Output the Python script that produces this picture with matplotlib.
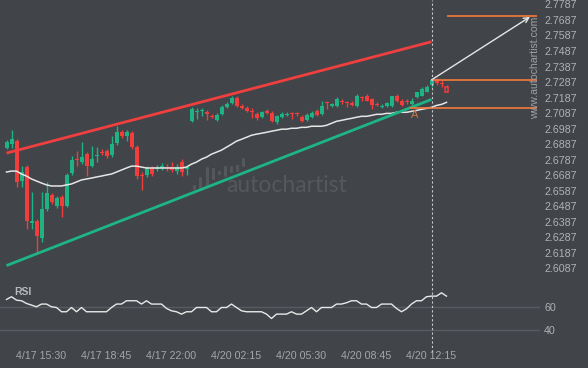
import matplotlib
matplotlib.use("Agg")
import matplotlib.pyplot as plt
from matplotlib.lines import Line2D
from matplotlib.patches import FancyBboxPatch
import numpy as np

plt.rcParams['font.family'] = ['Liberation Sans', 'DejaVu Sans']

# taille de l'image en pixels
W, H = 588, 368
BG = "#414449"
UP = "#1fb383"
DOWN = "#f23d3d"
TXT = "#aeb1b6"
ORANGE = "#f47a3a"

# bougies 15 min (open / high / low / close)
opens = [2.6861, 2.6886, 2.6906, 2.6649, 2.6739, 2.6380, 2.6393, 2.6284, 2.6470, 2.6560,
         2.6489, 2.6547, 2.6489, 2.6701, 2.6790, 2.6771, 2.6822, 2.6745, 2.6810, 2.6835,
         2.6842, 2.6816, 2.6893, 2.6963, 2.6938, 2.6957, 2.6867, 2.6688, 2.6688, 2.6733,
         2.6726, 2.6733, 2.6739, 2.6739, 2.6713, 2.6771, 2.6726, 2.7034, 2.7092, 2.7098,
         2.7092, 2.7066, 2.7040, 2.7079, 2.7124, 2.7149, 2.7181, 2.7130, 2.7117, 2.7098,
         2.7079, 2.7060, 2.7098, 2.7085, 2.7027, 2.7060, 2.7072, 2.7085, 2.7085, 2.7060,
         2.7040, 2.7060, 2.7098, 2.7079, 2.7156, 2.7130, 2.7130, 2.7162, 2.7156, 2.7149,
         2.7130, 2.7188, 2.7194, 2.7175, 2.7143, 2.7124, 2.7130, 2.7130, 2.7194, 2.7162,
         2.7162, 2.7143, 2.7188, 2.7200, 2.7226, 2.7265, 2.7297, 2.7284, 2.7258]
highs = [2.6912, 2.6976, 2.6918, 2.6745, 2.6752, 2.6579, 2.6406, 2.6579, 2.6643, 2.6572,
         2.6553, 2.6560, 2.6701, 2.6810, 2.6842, 2.6899, 2.6835, 2.6874, 2.6867, 2.6854,
         2.6854, 2.6938, 2.7002, 2.6976, 2.6976, 2.6970, 2.6880, 2.6707, 2.6745, 2.6745,
         2.6752, 2.6765, 2.6758, 2.6771, 2.6758, 2.6790, 2.6745, 2.7124, 2.7117, 2.7117,
         2.7104, 2.7079, 2.7085, 2.7136, 2.7156, 2.7200, 2.7194, 2.7143, 2.7130, 2.7117,
         2.7092, 2.7098, 2.7111, 2.7098, 2.7072, 2.7092, 2.7092, 2.7092, 2.7092, 2.7072,
         2.7085, 2.7098, 2.7111, 2.7168, 2.7168, 2.7149, 2.7188, 2.7175, 2.7168, 2.7162,
         2.7207, 2.7200, 2.7213, 2.7181, 2.7156, 2.7143, 2.7156, 2.7200, 2.7207, 2.7175,
         2.7175, 2.7181, 2.7226, 2.7252, 2.7271, 2.7309, 2.7316, 2.7303, 2.7265]
lows = [2.6854, 2.6861, 2.6611, 2.6611, 2.6342, 2.6342, 2.6181, 2.6258, 2.6457, 2.6502,
        2.6476, 2.6418, 2.6483, 2.6688, 2.6745, 2.6758, 2.6681, 2.6739, 2.6771, 2.6816,
        2.6797, 2.6803, 2.6880, 2.6925, 2.6906, 2.6854, 2.6662, 2.6592, 2.6675, 2.6681,
        2.6713, 2.6720, 2.6713, 2.6707, 2.6694, 2.6681, 2.6688, 2.7027, 2.7047, 2.7066,
        2.7040, 2.7053, 2.7034, 2.7072, 2.7117, 2.7143, 2.7124, 2.7111, 2.7092, 2.7053,
        2.7040, 2.7053, 2.7079, 2.7027, 2.7015, 2.7053, 2.7066, 2.7047, 2.7066, 2.7027,
        2.7034, 2.7053, 2.7066, 2.7072, 2.7111, 2.7124, 2.7124, 2.7143, 2.7124, 2.7130,
        2.7124, 2.7168, 2.7162, 2.7111, 2.7130, 2.7117, 2.7124, 2.7124, 2.7156, 2.7130,
        2.7143, 2.7136, 2.7181, 2.7194, 2.7220, 2.7258, 2.7265, 2.7258, 2.7220]
closes = [2.6899, 2.6918, 2.6643, 2.6707, 2.6393, 2.6393, 2.6297, 2.6470, 2.6572, 2.6515,
          2.6540, 2.6489, 2.6688, 2.6784, 2.6784, 2.6803, 2.6745, 2.6790, 2.6816, 2.6829,
          2.6810, 2.6886, 2.6963, 2.6938, 2.6963, 2.6867, 2.6681, 2.6681, 2.6733, 2.6694,
          2.6739, 2.6745, 2.6733, 2.6720, 2.6739, 2.6707, 2.6739, 2.7111, 2.7098, 2.7104,
          2.7079, 2.7060, 2.7072, 2.7124, 2.7143, 2.7181, 2.7130, 2.7117, 2.7098, 2.7092,
          2.7053, 2.7092, 2.7085, 2.7034, 2.7066, 2.7079, 2.7079, 2.7079, 2.7079, 2.7034,
          2.7072, 2.7085, 2.7072, 2.7130, 2.7149, 2.7143, 2.7175, 2.7156, 2.7149, 2.7136,
          2.7194, 2.7181, 2.7168, 2.7136, 2.7136, 2.7130, 2.7149, 2.7194, 2.7162, 2.7136,
          2.7156, 2.7168, 2.7220, 2.7239, 2.7258, 2.7303, 2.7284, 2.7277, 2.7226]

# moyenne mobile (ligne blanche)
ma = [2.6707, 2.6713, 2.6713, 2.6694, 2.6681, 2.6662, 2.6649, 2.6636, 2.6624, 2.6617,
      2.6617, 2.6617, 2.6624, 2.6630, 2.6643, 2.6656, 2.6662, 2.6668, 2.6675, 2.6681,
      2.6688, 2.6694, 2.6707, 2.6720, 2.6733, 2.6745, 2.6745, 2.6739, 2.6733, 2.6733,
      2.6733, 2.6733, 2.6733, 2.6733, 2.6733, 2.6733, 2.6739, 2.6758, 2.6771, 2.6790,
      2.6803, 2.6822, 2.6835, 2.6848, 2.6867, 2.6886, 2.6906, 2.6918, 2.6931, 2.6944,
      2.6951, 2.6957, 2.6963, 2.6970, 2.6976, 2.6983, 2.6983, 2.6989, 2.6989, 2.6995,
      2.6995, 2.7002, 2.7002, 2.7002, 2.7008, 2.7021, 2.7034, 2.7040, 2.7047, 2.7053,
      2.7060, 2.7066, 2.7066, 2.7072, 2.7079, 2.7079, 2.7085, 2.7085, 2.7092, 2.7092,
      2.7092, 2.7098, 2.7104, 2.7111, 2.7117, 2.7124, 2.7136, 2.7143, 2.7156]

rsi = [66.2, 68.5, 65.6, 65.1, 62.8, 61.4, 60.0, 62.3, 62.3, 60.0,
       59.4, 55.8, 55.8, 59.4, 55.8, 59.4, 55.8, 55.8, 55.8, 55.8,
       55.8, 59.4, 62.3, 62.3, 65.1, 65.1, 65.1, 62.3, 65.1, 62.3,
       62.3, 62.3, 58.6, 56.6, 55.8, 53.8, 55.8, 55.8, 59.4, 59.4,
       59.4, 55.8, 55.8, 59.4, 59.4, 62.3, 59.4, 56.6, 55.8, 55.8,
       55.8, 55.8, 53.8, 50.1, 53.8, 53.8, 53.8, 55.8, 53.8, 53.8,
       56.6, 59.4, 55.8, 59.4, 59.4, 59.4, 62.3, 62.3, 63.4, 65.1,
       65.1, 62.3, 62.3, 59.4, 59.4, 62.3, 62.3, 62.3, 58.6, 55.8,
       58.3, 62.3, 65.1, 65.1, 68.5, 69.0, 69.0, 71.8, 69.0]

price_ticks = [2.6087, 2.6187, 2.6287, 2.6387, 2.6487, 2.6587, 2.6687, 2.6787, 2.6887,
               2.6987, 2.7087, 2.7187, 2.7287, 2.7387, 2.7487, 2.7587, 2.7687, 2.7787]
rsi_ticks = [40, 60]
time_labels = ["4/17 15:30", "4/17 18:45", "4/17 22:00", "4/20 02:15",
               "4/20 05:30", "4/20 08:45", "4/20 12:15"]
time_label_bars = [7, 20, 33, 46, 59, 72, 85]

# canal et niveaux du motif
channel_bars = [0, 85]
upper_channel = [2.6829, 2.7547]
lower_channel = [2.6104, 2.7175]
level_starts = [88, 85, 80.7]
level_end = 106
level_prices = [2.7713, 2.7301, 2.7122]
arrow_start = (85, 2.7301)
arrow_end = (104.7, 2.7707)
point_a = (81.6, 2.7072)
now_bar = 85


def px_axes(fig, left, top, right, bottom):
    return fig.add_axes([left / W, 1 - bottom / H, (right - left) / W, (bottom - top) / H])


fig = plt.figure(figsize=(W / 100, H / 100), dpi=100, facecolor=BG)
ax = px_axes(fig, 0, 0, 540, 280)
ax_rsi = px_axes(fig, 0, 283, 540, 345)

for a in (ax, ax_rsi):
    a.set_facecolor(BG)
    for s in a.spines.values():
        s.set_visible(False)
    a.set_xlim(-1.3, 106.7)
    a.yaxis.tick_right()
    a.tick_params(axis='y', length=0, pad=3, labelsize=7.7, labelcolor=TXT)

ax.set_ylim(2.6011, 2.78158)
ax_rsi.set_ylim(27.7, 80.1)

# filigrane
ax.text(287 / 540, 1 - 185 / 280, "autochartist", transform=ax.transAxes, ha='center',
        va='center', fontsize=16.5, color="#55585d", family=['Lato', 'DejaVu Sans'], zorder=0)
logo = [(193, 185, 190), (199, 177, 190), (206, 167, 187), (212, 168, 180), (218, 171, 175),
        (224, 166, 177), (230, 166, 173), (236, 165, 172), (242, 158, 167)]
for lx, top, bot in logo:
    ax.add_patch(FancyBboxPatch((lx / 540, 1 - bot / 280), 3 / 540, (bot - top) / 280,
                                boxstyle="round,pad=0,rounding_size=0.003",
                                transform=ax.transAxes, color="#54575c", lw=0, zorder=0))

x = np.arange(len(opens))
o = np.array(opens)
c = np.array(closes)
colors = [UP if cc >= oo else DOWN for oo, cc in zip(o, c)]
bottoms = np.minimum(o, c)
heights = np.maximum(np.abs(c - o), 0.0005)

ax.vlines(x, lows, highs, colors=colors, lw=1, zorder=2)
ax.bar(x[:-1], heights[:-1], 0.8, bottom=bottoms[:-1], color=colors[:-1], lw=0, zorder=3)
# bougie en cours (creuse)
ax.bar(x[-1:], heights[-1:], 0.75, bottom=bottoms[-1:], facecolor=BG, edgecolor=DOWN,
       lw=1.1, zorder=3)

ax.plot(x, ma, color="#e6e6e6", lw=1.1, zorder=4)
ax.plot(channel_bars, upper_channel, color="#f03f3f", lw=2, solid_capstyle='butt', zorder=5)
ax.plot(channel_bars, lower_channel, color="#1db585", lw=2, solid_capstyle='butt', zorder=5)

for start, price in zip(level_starts, level_prices):
    ax.hlines(price, start, level_end, color=ORANGE, lw=1.2, zorder=5)

ax.annotate("", xy=arrow_end, xytext=arrow_start,
            arrowprops=dict(arrowstyle="->", color="#e6e6e6", lw=1, mutation_scale=9,
                            shrinkA=0, shrinkB=0), zorder=6)
ax.text(point_a[0], point_a[1], "A", color="#cc7a45", fontsize=8, ha='center', va='center',
        zorder=6)

ax.set_yticks(price_ticks, [f"{p:.4f}" for p in price_ticks])
ax.set_xticks([])

# watermark vertical
fig.text(535 / W, 1 - 68 / H, "www.autochartist.com", rotation=90, ha='center', va='center',
         fontsize=7.6, color="#9ea1a6")

# panneau RSI
for lvl in rsi_ticks:
    ax_rsi.axhline(lvl, color="#585b61", lw=1, zorder=1)
ax_rsi.plot(x, rsi, color="#e8e8e8", lw=1, zorder=3)
ax_rsi.set_yticks(rsi_ticks, [str(t) for t in rsi_ticks])
ax_rsi.set_xticks(time_label_bars, time_labels)
ax_rsi.tick_params(axis='x', length=0, pad=4, labelsize=7.7, labelcolor="#a3a6ab")
fig.text(14 / W, 1 - 292 / H, "RSI", ha='left', va='center', fontsize=7.5,
         fontweight='bold', color="#b6b9bd")

# ligne pointillée verticale (instant courant)
xd = fig.transFigure.inverted().transform(ax.transData.transform((now_bar, 2.7)))[0]
fig.add_artist(Line2D([xd, xd], [1 - 352 / H, 1], color="#c8cacd", lw=0.8,
                      dashes=(2, 2), transform=fig.transFigure))

fig.savefig("out.png", dpi=100, facecolor=BG)
